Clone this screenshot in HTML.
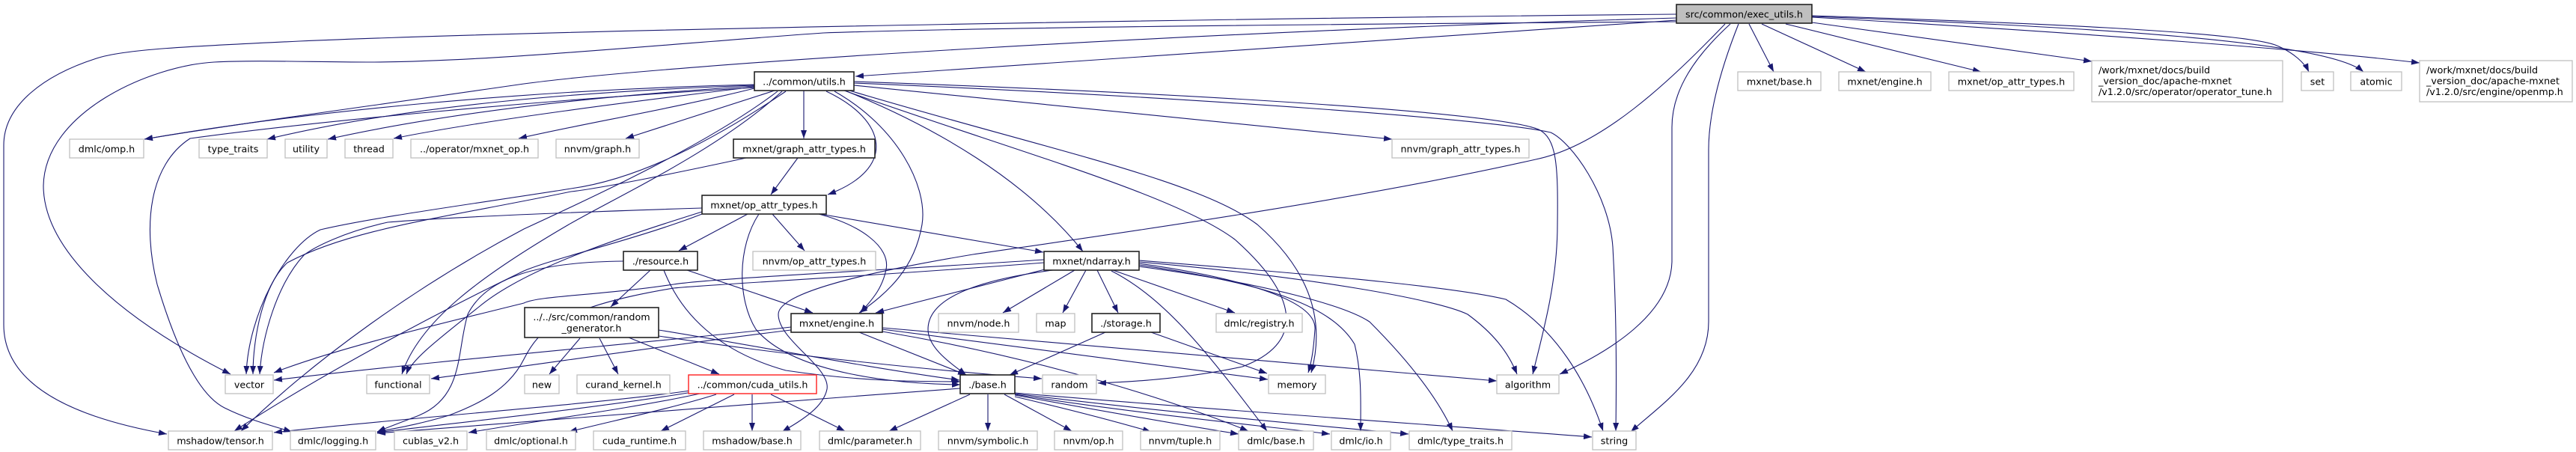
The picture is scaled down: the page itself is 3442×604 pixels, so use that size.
<!DOCTYPE html>
<html><head><meta charset="utf-8"><style>
html,body{margin:0;padding:0;background:#fff;}
svg{display:block;}
text{font-family:"DejaVu Sans","Liberation Sans",sans-serif;font-size:12.7px;fill:#000;}
.e{fill:none;stroke:#191970;stroke-width:1.1;marker-end:url(#a);}
.g{fill:#fff;stroke:#bfbfbf;stroke-width:1.3;}
.k{fill:#fff;stroke:#222;stroke-width:1.6;}
</style></head><body>
<svg width="3442" height="604" viewBox="0 0 3442 604" xmlns="http://www.w3.org/2000/svg">
<defs><marker id="a" markerUnits="userSpaceOnUse" markerWidth="11" markerHeight="8" viewBox="0 0 11 8" refX="11" refY="4" orient="auto"><path d="M0,0 L11,4 L0,8 z" fill="#191970"/></marker></defs>
<rect width="3442" height="604" fill="#fff"/>
<g>
<path class="e" d="M2240,27 L1143,102"/>
<path class="e" d="M2240,24 C1600,42 900,85 700,112 C450,148 300,168 193,186"/>
<path class="e" d="M2240,19 C1700,24 800,38 400,55 C250,62 165,66 129,78 C60,100 5,140 5,194 L5,434 C5,520 110,560 223,580"/>
<path class="e" d="M2240,29 C1800,32 1300,37 1100,44 C900,58 650,83 491,83 C420,83 340,80 286,83 C200,88 60,150 58,248 C58,330 150,420 308,500"/>
<path class="e" d="M2337,32 L2370,96"/>
<path class="e" d="M2354,32 L2493,96"/>
<path class="e" d="M2386,32 L2647,96"/>
<path class="e" d="M2421,30 L2795,82"/>
<path class="e" d="M2421,21 C2700,30 2990,42 3040,60 C3065,70 3080,85 3085,96"/>
<path class="e" d="M2421,22 C2800,36 3110,55 3158,96"/>
<path class="e" d="M2421,23 C2800,45 3100,68 3233,84"/>
<path class="e" d="M2305,32 C2230,110 2140,195 2052,213 C1800,270 1450,318 1300,340 C1150,365 1040,392 1040,420 C1040,455 1110,490 1105,520 C1100,545 1070,562 1045,577"/>
<path class="e" d="M2312,32 C2265,75 2234,120 2234,170 L2234,350 C2232,420 2150,470 2084,500"/>
<path class="e" d="M2323,32 C2300,90 2283,150 2283,200 L2283,430 C2283,500 2220,540 2179,577"/>

<path class="e" d="M1074,121 L1074,185"/>
<path class="e" d="M1035,121 L836,185"/>
<path class="e" d="M1008,118 C900,145 780,165 693,185"/>
<path class="e" d="M1008,116 C850,135 650,160 526,185"/>
<path class="e" d="M1008,115 C800,128 600,150 438,186"/>
<path class="e" d="M1008,114 C780,122 550,140 357,186"/>
<path class="e" d="M1008,113 C700,120 400,150 193,186"/>
<path class="e" d="M1008,117 C700,135 400,165 254,185 C200,220 190,300 210,380 C240,480 270,530 300,545 C330,560 360,568 390,577"/>
<path class="e" d="M1050,122 C950,190 850,240 763,252 C650,270 500,290 428,307 C380,330 332,420 329,500"/>
<path class="e" d="M1045,122 C960,200 830,260 760,300 C640,370 560,430 537,500"/>
<path class="e" d="M1039,122 C950,190 800,260 700,306 C560,380 420,480 322,576"/>
<path class="e" d="M1104,122 C1185,160 1200,225 1106,260"/>
<path class="e" d="M1115,122 C1200,170 1240,250 1232,300 C1222,360 1185,392 1148,418"/>
<path class="e" d="M1129,121 C1250,170 1370,240 1447,336"/>
<path class="e" d="M1141,114 L1860,186"/>
<path class="e" d="M1141,109 C1600,125 2000,150 2056,173 C2080,185 2082,220 2081,300 C2081,380 2060,450 2048,500"/>
<path class="e" d="M1141,111 C1600,130 2000,160 2072,177 C2100,190 2150,260 2155,330 C2160,420 2160,500 2159,576"/>
<path class="e" d="M1135,121 C1400,200 1600,240 1680,300 C1760,370 1768,440 1752,498"/>
<path class="e" d="M1128,121 C1350,200 1570,260 1650,320 C1740,400 1740,460 1660,490 C1590,505 1520,510 1467,512"/>

<path class="e" d="M1066,211 L1030,260"/>
<path class="e" d="M997,211 C900,232 800,252 763,256 C600,290 470,305 384,351 C352,380 338,450 338,500"/>

<path class="e" d="M999,286 L907,335"/>
<path class="e" d="M1032,286 L1075,335"/>
<path class="e" d="M1090,285 L1394,337"/>
<path class="e" d="M1090,285 C1150,300 1190,330 1184,360 C1178,390 1160,405 1150,418"/>
<path class="e" d="M1014,286 C985,330 985,400 1010,440 C1060,500 1200,513 1283,514"/>
<path class="e" d="M938,278 C750,284 600,290 518,297 C460,310 420,330 406,341 C370,380 350,450 347,500"/>
<path class="e" d="M938,283 C820,320 700,360 640,410 C590,450 550,480 543,500"/>
<path class="e" d="M938,286 C850,320 740,345 700,362 C580,420 430,500 313,576"/>

<path class="e" d="M869,361 L816,410"/>
<path class="e" d="M918,361 L1086,418"/>
<path class="e" d="M887,361 C910,420 960,470 1050,495 C1150,510 1230,510 1283,510"/>
<path class="e" d="M833,349 C720,350 650,370 625,420 C610,470 620,530 560,555 C540,563 520,570 504,577"/>

<path class="e" d="M1436,361 L1340,418"/>
<path class="e" d="M1451,361 L1420,418"/>
<path class="e" d="M1466,361 L1494,418"/>
<path class="e" d="M1487,361 L1650,418"/>
<path class="e" d="M1396,360 L1170,418"/>
<path class="e" d="M1407,361 C1300,375 1240,400 1240,440 C1240,465 1270,485 1291,501"/>
<path class="e" d="M1485,362 C1560,400 1620,480 1693,576"/>
<path class="e" d="M1522,352 C1650,370 1760,400 1757,440 C1755,470 1752,485 1748,498"/>
<path class="e" d="M1522,354 C1700,380 1780,410 1810,460 C1820,500 1818,540 1818,576"/>
<path class="e" d="M1522,356 C1700,380 1800,410 1830,430 C1880,480 1920,530 1941,576"/>
<path class="e" d="M1522,350 C1750,370 1920,400 1961,420 C1995,445 2015,470 2027,500"/>
<path class="e" d="M1522,348 C1800,370 1950,385 2012,400 C2080,440 2120,510 2142,576"/>
<path class="e" d="M1395,347 C1200,360 950,372 900,380 C800,395 720,395 700,405 C600,430 450,465 366,498"/>
<path class="e" d="M1395,351 C1150,370 950,380 900,385 C750,410 720,440 700,480 C680,520 640,540 600,555 C560,567 530,572 504,577"/>

<path class="e" d="M1477,444 L1349,501"/>
<path class="e" d="M1538,444 L1693,499"/>

<path class="e" d="M1148,444 L1291,501"/>
<path class="e" d="M1057,437 C900,455 600,480 366,508"/>
<path class="e" d="M1057,441 C900,460 700,490 576,506"/>
<path class="e" d="M1179,440 C1400,470 1600,495 1694,507"/>
<path class="e" d="M1179,438 C1500,465 1800,493 2000,509"/>
<path class="e" d="M1179,443 C1400,480 1580,540 1668,576"/>

<path class="e" d="M775,452 L734,500"/>
<path class="e" d="M801,452 L826,500"/>
<path class="e" d="M840,451 L961,500"/>
<path class="e" d="M880,441 C1000,460 1150,490 1282,508"/>
<path class="e" d="M880,449 C1050,475 1250,495 1392,506"/>

<path class="e" d="M922,522 C800,540 500,562 366,578"/>
<path class="e" d="M925,524 C800,545 600,566 504,578"/>
<path class="e" d="M935,526 C850,545 700,565 626,578"/>
<path class="e" d="M957,527 C900,545 820,562 760,577"/>
<path class="e" d="M981,527 L883,576"/>
<path class="e" d="M1005,527 L1005,576"/>
<path class="e" d="M1030,527 L1129,576"/>

<path class="e" d="M1283,519 C1000,540 700,562 504,579"/>
<path class="e" d="M1296,527 L1188,576"/>
<path class="e" d="M1320,527 L1320,576"/>
<path class="e" d="M1342,527 L1432,576"/>
<path class="e" d="M1356,530 C1420,545 1480,560 1538,577"/>
<path class="e" d="M1356,528 C1450,545 1560,565 1655,580"/>
<path class="e" d="M1356,527 C1500,550 1650,565 1777,580"/>
<path class="e" d="M1356,526 C1550,550 1750,568 1882,580"/>
<path class="e" d="M1356,525 C1650,550 1950,570 2127,584"/>
</g>

<g text-anchor="middle">
<rect x="2240" y="6" width="181" height="25" fill="#bfbfbf" stroke="#222" stroke-width="1.6"/><text x="2330.5" y="23.3">src/common/exec_utils.h</text>
<rect class="k" x="1008" y="96" width="133" height="25"/><text x="1074.5" y="113.3">../common/utils.h</text>
<rect class="g" x="2322" y="96" width="111" height="25"/><text x="2377.5" y="113.3">mxnet/base.h</text>
<rect class="g" x="2457" y="96" width="123" height="25"/><text x="2518.5" y="113.3">mxnet/engine.h</text>
<rect class="g" x="2604" y="96" width="167" height="25"/><text x="2687.5" y="113.3">mxnet/op_attr_types.h</text>
<rect class="g" x="3075" y="96" width="43" height="25"/><text x="3096.5" y="113.3">set</text>
<rect class="g" x="3141" y="96" width="68" height="25"/><text x="3175" y="113.3">atomic</text>

<rect class="g" x="93" y="186" width="99" height="25"/><text x="142.5" y="203.3">dmlc/omp.h</text>
<rect class="g" x="266" y="186" width="91" height="25"/><text x="311.5" y="203.3">type_traits</text>
<rect class="g" x="381" y="186" width="56" height="25"/><text x="409" y="203.3">utility</text>
<rect class="g" x="461" y="186" width="64" height="25"/><text x="493" y="203.3">thread</text>
<rect class="g" x="549" y="186" width="170" height="25"/><text x="634" y="203.3">../operator/mxnet_op.h</text>
<rect class="g" x="743" y="186" width="111" height="25"/><text x="798.5" y="203.3">nnvm/graph.h</text>
<rect class="k" x="980" y="186" width="189" height="25"/><text x="1074.5" y="203.3">mxnet/graph_attr_types.h</text>
<rect class="g" x="1860" y="186" width="183" height="25"/><text x="1951.5" y="203.3">nnvm/graph_attr_types.h</text>

<rect class="k" x="938" y="261" width="166" height="25"/><text x="1021" y="278.3">mxnet/op_attr_types.h</text>

<rect class="k" x="833" y="336" width="99" height="25"/><text x="882.5" y="353.3">./resource.h</text>
<rect class="g" x="1006" y="336" width="164" height="25"/><text x="1088" y="353.3">nnvm/op_attr_types.h</text>
<rect class="k" x="1395" y="336" width="127" height="25"/><text x="1458.5" y="353.3">mxnet/ndarray.h</text>

<rect class="k" x="701" y="411" width="179" height="40"/><text x="790.5" y="428">../../src/common/random</text><text x="790.5" y="443">_generator.h</text>
<rect class="k" x="1057" y="419" width="122" height="25"/><text x="1118" y="436.3">mxnet/engine.h</text>
<rect class="g" x="1254" y="419" width="107" height="25"/><text x="1307.5" y="436.3">nnvm/node.h</text>
<rect class="g" x="1385" y="419" width="51" height="25"/><text x="1410.5" y="436.3">map</text>
<rect class="k" x="1459" y="419" width="91" height="25"/><text x="1504.5" y="436.3">./storage.h</text>
<rect class="g" x="1625" y="419" width="115" height="25"/><text x="1682.5" y="436.3">dmlc/registry.h</text>

<rect class="g" x="301" y="501" width="64" height="25"/><text x="333" y="518.3">vector</text>
<rect class="g" x="490" y="501" width="84" height="25"/><text x="532" y="518.3">functional</text>
<rect class="g" x="701" y="501" width="46" height="25"/><text x="724" y="518.3">new</text>
<rect class="g" x="771" y="501" width="124" height="25"/><text x="833" y="518.3">curand_kernel.h</text>
<rect x="920" y="501" width="171" height="25" fill="#fff" stroke="#ff2020" stroke-width="1.4"/><text x="1005.5" y="518.3">../common/cuda_utils.h</text>
<rect class="k" x="1283" y="501" width="73" height="25"/><text x="1319.5" y="518.3">./base.h</text>
<rect class="g" x="1393" y="501" width="72" height="25"/><text x="1429" y="518.3">random</text>
<rect class="g" x="1695" y="501" width="76" height="25"/><text x="1733" y="518.3">memory</text>
<rect class="g" x="2000" y="501" width="83" height="25"/><text x="2041.5" y="518.3">algorithm</text>

<rect class="g" x="225" y="576" width="139" height="25"/><text x="294.5" y="593.3">mshadow/tensor.h</text>
<rect class="g" x="388" y="576" width="114" height="25"/><text x="445" y="593.3">dmlc/logging.h</text>
<rect class="g" x="527" y="576" width="97" height="25"/><text x="575.5" y="593.3">cublas_v2.h</text>
<rect class="g" x="650" y="576" width="119" height="25"/><text x="709.5" y="593.3">dmlc/optional.h</text>
<rect class="g" x="793" y="576" width="123" height="25"/><text x="854.5" y="593.3">cuda_runtime.h</text>
<rect class="g" x="940" y="576" width="130" height="25"/><text x="1005" y="593.3">mshadow/base.h</text>
<rect class="g" x="1095" y="576" width="135" height="25"/><text x="1162.5" y="593.3">dmlc/parameter.h</text>
<rect class="g" x="1254" y="576" width="132" height="25"/><text x="1320" y="593.3">nnvm/symbolic.h</text>
<rect class="g" x="1409" y="576" width="91" height="25"/><text x="1454.5" y="593.3">nnvm/op.h</text>
<rect class="g" x="1524" y="576" width="106" height="25"/><text x="1577" y="593.3">nnvm/tuple.h</text>
<rect class="g" x="1655" y="576" width="100" height="25"/><text x="1705" y="593.3">dmlc/base.h</text>
<rect class="g" x="1779" y="576" width="79" height="25"/><text x="1818.5" y="593.3">dmlc/io.h</text>
<rect class="g" x="1883" y="576" width="137" height="25"/><text x="1951.5" y="593.3">dmlc/type_traits.h</text>
<rect class="g" x="2128" y="576" width="58" height="25"/><text x="2157" y="593.3">string</text>
</g>

<g text-anchor="start">
<rect class="g" x="2795" y="81" width="255" height="55"/>
<text x="2804" y="98">/work/mxnet/docs/build</text>
<text x="2804" y="112.5">_version_doc/apache-mxnet</text>
<text x="2804" y="127">/v1.2.0/src/operator/operator_tune.h</text>
<rect class="g" x="3233" y="81" width="204" height="55"/>
<text x="3242" y="98">/work/mxnet/docs/build</text>
<text x="3242" y="112.5">_version_doc/apache-mxnet</text>
<text x="3242" y="127">/v1.2.0/src/engine/openmp.h</text>
</g>
</svg>
</body></html>
